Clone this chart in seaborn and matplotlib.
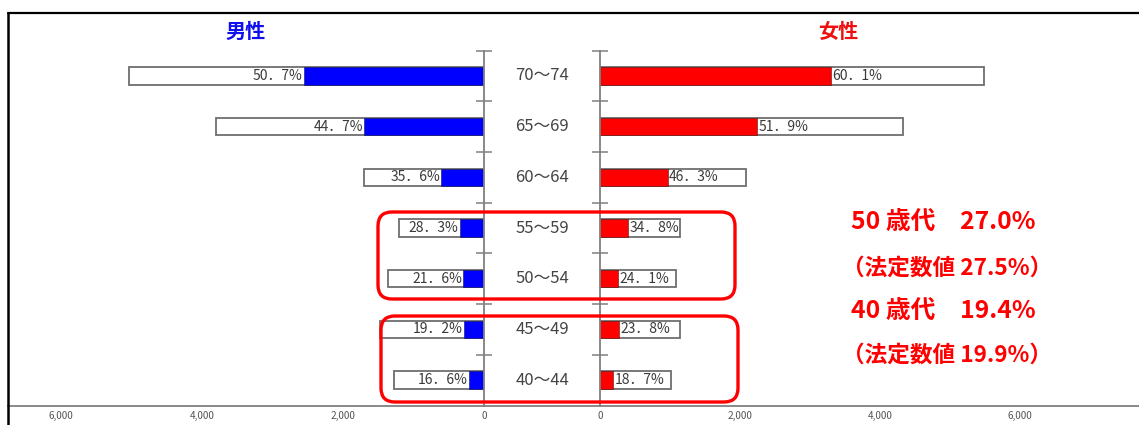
import matplotlib
matplotlib.use('Agg')
import matplotlib.pyplot as plt
import seaborn as sns
import pandas as pd
from matplotlib.patches import FancyBboxPatch
from matplotlib.lines import Line2D
from matplotlib.transforms import IdentityTransform, blended_transform_factory

# ---------------- data ----------------
ages = ["70～74", "65～69", "60～64", "55～59", "50～54", "45～49", "40～44"]
male_total = [5040, 3800, 1700, 1200, 1360, 1470, 1270]
male_exam = [2555, 1700, 605, 340, 294, 282, 211]
male_pct = ["50．7%", "44．7%", "35．6%", "28．3%", "21．6%", "19．2%", "16．6%"]
female_total = [5490, 4330, 2090, 1140, 1090, 1140, 1010]
female_exam = [3300, 2247, 968, 397, 263, 271, 189]
female_pct = ["60．1%", "51．9%", "46．3%", "34．8%", "24．1%", "23．8%", "18．7%"]
left_ticks = [6000, 4000, 2000, 0]
right_ticks = [0, 2000, 4000, 6000, 8000]
titles = ["男性", "女性"]
notes = ["50 歳代　27.0%", "（法定数値 27.5%）", "40 歳代　19.4%", "（法定数値 19.9%）"]

df = pd.DataFrame({"age": ages, "mt": male_total, "me": male_exam,
                   "ft": female_total, "fe": female_exam})

sns.set_theme(style="white")
plt.rcParams['font.family'] = ['Noto Sans CJK JP', 'DejaVu Sans']

W, H = 1139, 425
fig = plt.figure(figsize=(W / 100, H / 100), dpi=100)


def fx(px):
    return px / W


def fy(py):
    return 1 - py / H


AX_BOT, AX_TOP = 406, 13
bottom, top = fy(AX_BOT), fy(AX_TOP)
ax_l = fig.add_axes([fx(8), bottom, fx(484 - 8), top - bottom])
ax_r = fig.add_axes([fx(600), bottom, fx(1160 - 600), top - bottom])

BAR_W = 0.34
GRAY = "#808080"

sns.barplot(data=df, x="mt", y="age", orient="h", color="white", saturation=1,
            edgecolor="#6e6e6e", linewidth=1.3, width=BAR_W, ax=ax_l)
sns.barplot(data=df, x="me", y="age", orient="h", color="#0000FF", saturation=1,
            edgecolor="#10105a", linewidth=0.4, width=BAR_W, ax=ax_l)
sns.barplot(data=df, x="ft", y="age", orient="h", color="white", saturation=1,
            edgecolor="#6e6e6e", linewidth=1.3, width=BAR_W, ax=ax_r)
sns.barplot(data=df, x="fe", y="age", orient="h", color="#FF0000", saturation=1,
            edgecolor="#5a1010", linewidth=0.4, width=BAR_W, ax=ax_r)

ROW0, ROW_STEP = 76, 50.67
y_low = (AX_BOT - ROW0) / ROW_STEP
y_high = (AX_TOP - ROW0) / ROW_STEP

ax_l.set_xlim(6752, 0)
ax_r.set_xlim(0, 8000)
bounds = [i - 0.5 for i in range(len(ages))]
for ax in (ax_l, ax_r):
    ax.set_ylim(y_low, y_high)
    ax.set_facecolor("none")
    ax.set_xlabel("")
    ax.set_ylabel("")
    ax.spines["top"].set_visible(False)
    ax.spines["bottom"].set_color(GRAY)
    ax.spines["bottom"].set_linewidth(1.3)
    ax.set_yticks(bounds)
    ax.set_yticklabels([])
    ax.tick_params(axis="y", direction="inout", length=11, width=1.1, color=GRAY)
    ax.tick_params(axis="x", direction="inout", length=7, width=1.1, color=GRAY,
                   labelsize=7.2, labelcolor="#555555", pad=0.3)

ax_l.spines["left"].set_visible(False)
ax_l.spines["right"].set_visible(True)
ax_l.spines["right"].set_color(GRAY)
ax_l.spines["right"].set_linewidth(1.3)
ax_l.spines["right"].set_bounds(-0.5, y_low)
ax_l.yaxis.tick_right()
ax_r.spines["right"].set_visible(False)
ax_r.spines["left"].set_color(GRAY)
ax_r.spines["left"].set_linewidth(1.3)
ax_r.spines["left"].set_bounds(-0.5, y_low)
ax_r.yaxis.tick_left()

ax_l.set_xticks(left_ticks)
ax_l.set_xticklabels([f"{v:,}" for v in left_ticks])
ax_r.set_xticks(right_ticks)
ax_r.set_xticklabels([f"{v:,}" for v in right_ticks])

# percentage labels
for i in range(len(ages)):
    ax_l.annotate(male_pct[i], (male_exam[i], i), xytext=(-1, 0),
                  textcoords="offset points", ha="right", va="center",
                  fontsize=10, color="#3a3a3a")
    ax_r.annotate(female_pct[i], (female_exam[i], i), xytext=(1, 0),
                  textcoords="offset points", ha="left", va="center",
                  fontsize=10, color="#3a3a3a")

# category labels between the two halves
tr = blended_transform_factory(fig.transFigure, ax_l.transData)
for i, a in enumerate(ages):
    fig.text(fx(542), i, a, transform=tr, ha="center", va="center",
             fontsize=12, color="#444444")

# titles
fig.text(fx(246), fy(31), titles[0], ha="center", va="center", fontsize=14.5,
         fontweight="bold", color="#1010EE")
fig.text(fx(838), fy(31), titles[1], ha="center", va="center", fontsize=14.5,
         fontweight="bold", color="#EE1010")

# continuous bottom axis line and outer frame
fig.add_artist(Line2D([fx(484), fx(600)], [fy(AX_BOT), fy(AX_BOT)], color=GRAY, lw=1.3))
fig.add_artist(Line2D([fx(8), 1], [fy(13), fy(13)], color="black", lw=1.6))
fig.add_artist(Line2D([fx(8), fx(8)], [fy(13), 0], color="black", lw=1.8))

# red rounded highlight boxes (pixel coords)
for (x0, y_top, x1, y_bot) in [(378, 212, 735, 299), (381, 316, 738, 402)]:
    fig.add_artist(FancyBboxPatch((x0, H - y_bot), x1 - x0, y_bot - y_top,
                                  boxstyle="round,pad=0,rounding_size=14",
                                  transform=IdentityTransform(), fill=False,
                                  ec="#FF0000", lw=2.4))

# red notes
note_pos = [(851, 222, 17.8), (842, 268, 16.3), (851, 311, 17.8), (842, 355, 16.3)]
for t, (x, y, s) in zip(notes, note_pos):
    fig.text(fx(x), fy(y), t, ha="left", va="center", fontsize=s,
             fontweight="bold", color="#FF0000")

fig.savefig("out.png", dpi=100)
